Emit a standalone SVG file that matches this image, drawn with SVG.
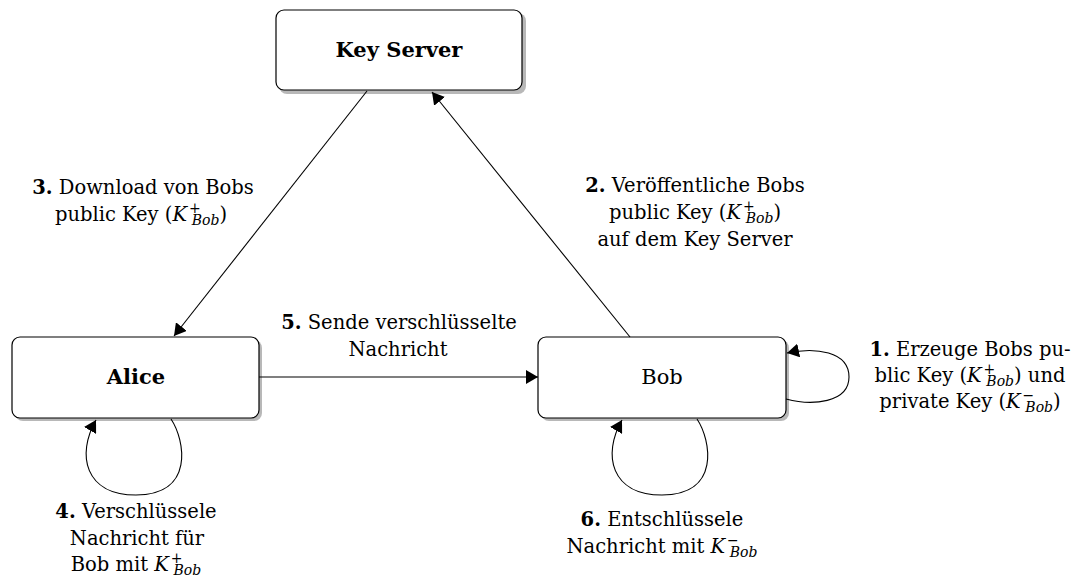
<svg xmlns="http://www.w3.org/2000/svg" width="1078" height="583" viewBox="0 0 1078 583">
  <style>
    .box { fill: #ffffff; stroke: #000000; stroke-width: 1.2; }
    .shadow { fill: #b8b8b8; }
    .edge { fill: none; stroke: #000000; stroke-width: 1.1; marker-end: url(#arrow); }
    text { font-family: 'DejaVu Serif', serif; font-size: 19.5px; fill: #000000; }
    .title { font-weight: bold; text-anchor: middle; font-size: 21px; }
    .name { text-anchor: middle; font-size: 21px; }
    .lbl { text-anchor: middle; }
    .b { font-weight: bold; }
    .m { font-style: italic; }
    .s { font-size: 14px; }
  </style>
  <defs>
    <marker id="arrow" markerUnits="userSpaceOnUse" markerWidth="13" markerHeight="14" refX="12" refY="7" orient="auto">
      <path d="M0,0 L12,7 L0,14 Z" fill="#000000"/>
    </marker>
  </defs>

  <!-- nodes -->
  <g id="key-server">
    <rect class="shadow" x="279" y="13" width="247" height="81" rx="8"/>
    <rect class="box" x="276" y="10" width="246" height="80" rx="8"/>
    <text class="title" x="399" y="57">Key Server</text>
  </g>
  <g id="alice">
    <rect class="shadow" x="15" y="340" width="247" height="81" rx="8"/>
    <rect class="box" x="12" y="337" width="247" height="81" rx="8"/>
    <text class="title" x="136" y="384">Alice</text>
  </g>
  <g id="bob">
    <rect class="shadow" x="541" y="340" width="248" height="81" rx="8"/>
    <rect class="box" x="538" y="337" width="248" height="81" rx="8"/>
    <text class="name" x="662" y="384">Bob</text>
  </g>

  <!-- connectors -->
  <g id="connectors">
    <path class="edge" d="M367,91 L174,336"/>
    <path class="edge" d="M630,337 L432,92"/>
    <path class="edge" d="M259,377 L538,377"/>
    <path class="edge" d="M786,399 C812,406 849,403 849,377 C849,351 815,347 787,353"/>
    <path class="edge" d="M171,419 C185,440 195,495 136,495 C85,495 76,455 96,420"/>
    <path class="edge" d="M697,419 C711,440 721,495 662,495 C611,495 602,455 622,420"/>
  </g>

  <!-- edge labels -->
  <g id="label-3">
    <text class="lbl" x="143" y="194"><tspan class="b">3.</tspan> Download von Bobs</text>
    <text class="lbl" x="141" y="221">public Key (<tspan class="m">K</tspan><tspan class="s" dx="2" dy="-8">+</tspan><tspan class="s m" dx="-9" dy="12">Bob</tspan><tspan dy="-4">)</tspan></text>
  </g>
  <g id="label-2">
    <text class="lbl" x="695" y="192"><tspan class="b">2.</tspan> Veröffentliche Bobs</text>
    <text class="lbl" x="695" y="219">public Key (<tspan class="m">K</tspan><tspan class="s" dx="2" dy="-8">+</tspan><tspan class="s m" dx="-9" dy="12">Bob</tspan><tspan dy="-4">)</tspan></text>
    <text class="lbl" x="695" y="246">auf dem Key Server</text>
  </g>
  <g id="label-5">
    <text class="lbl" x="399" y="329"><tspan class="b">5.</tspan> Sende verschlüsselte</text>
    <text class="lbl" x="398" y="356">Nachricht</text>
  </g>
  <g id="label-1">
    <text class="lbl" x="970" y="356"><tspan class="b">1.</tspan> Erzeuge Bobs pu-</text>
    <text class="lbl" x="970" y="382">blic Key (<tspan class="m">K</tspan><tspan class="s" dx="2" dy="-8">+</tspan><tspan class="s m" dx="-9" dy="12">Bob</tspan><tspan dy="-4">) und</tspan></text>
    <text class="lbl" x="970" y="408">private Key (<tspan class="m">K</tspan><tspan class="s" dx="2" dy="-8">−</tspan><tspan class="s m" dx="-9" dy="12">Bob</tspan><tspan dy="-4">)</tspan></text>
  </g>
  <g id="label-4">
    <text class="lbl" x="136" y="518"><tspan class="b">4.</tspan> Verschlüssele</text>
    <text class="lbl" x="137" y="545">Nachricht für</text>
    <text class="lbl" x="136" y="571">Bob mit <tspan class="m">K</tspan><tspan class="s" dx="2" dy="-8">+</tspan><tspan class="s m" dx="-9" dy="12">Bob</tspan></text>
  </g>
  <g id="label-6">
    <text class="lbl" x="662" y="526"><tspan class="b">6.</tspan> Entschlüssele</text>
    <text class="lbl" x="662" y="553">Nachricht mit <tspan class="m">K</tspan><tspan class="s" dx="2" dy="-8">−</tspan><tspan class="s m" dx="-9" dy="12">Bob</tspan></text>
  </g>
</svg>
